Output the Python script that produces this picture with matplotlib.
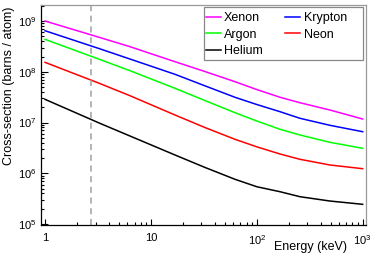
"""Photo-absorption cross-sections of noble gases vs energy (ROOT-style log-log plot)."""

import numpy as np
import matplotlib
matplotlib.use('Agg')
import matplotlib.pyplot as plt
from matplotlib.patches import Rectangle
from matplotlib.ticker import FixedLocator, FixedFormatter, LogLocator, NullFormatter

plt.rcParams.update({
    'font.family': ['Liberation Sans', 'DejaVu Sans'],
    'mathtext.fontset': 'custom',
    'mathtext.rm': 'Liberation Sans',
    'mathtext.it': 'Liberation Sans',
})

energy = [1.0, 3.3, 6.35, 16.9, 32.4, 62.3, 100.0, 166.0, 256.0, 491.0, 1000.0]

# log10 of cross-section (barns / atom)
xenon = [9.000, 8.675, 8.494, 8.198, 8.005, 7.804, 7.650, 7.497, 7.390, 7.246, 7.069]
krypton = [8.809, 8.452, 8.251, 7.950, 7.723, 7.497, 7.355, 7.213, 7.083, 6.945, 6.819]
argon = [8.639, 8.242, 8.021, 7.674, 7.433, 7.193, 7.030, 6.866, 6.754, 6.610, 6.492]
neon = [8.186, 7.768, 7.528, 7.148, 6.901, 6.669, 6.521, 6.379, 6.275, 6.163, 6.090]
helium = [7.457, 6.984, 6.734, 6.360, 6.115, 5.881, 5.735, 5.636, 5.538, 5.453, 5.388]

marker_energy = 2.7

xticks = [1, 10, 100, 1000]
xticklabels = ['1', '10', '$10^{2}$', '$10^{3}$']
yticks = [1e5, 1e6, 1e7, 1e8, 1e9]
yticklabels = ['$10^{5}$', '$10^{6}$', '$10^{7}$', '$10^{8}$', '$10^{9}$']

# legend order gives Xenon/Krypton, Argon/Neon, Helium rows with ncol=2
series = [
    ('Xenon', xenon, '#ff00ff'),
    ('Argon', argon, '#00ff00'),
    ('Helium', helium, 'black'),
    ('Krypton', krypton, '#0000ff'),
    ('Neon', neon, '#ff0000'),
]

fig = plt.figure(figsize=(3.74, 2.57), dpi=100)
ax = fig.add_axes([0.1096, 0.1245, 0.869, 0.856])

for name, vals, col in series:
    ax.plot(energy, 10 ** np.array(vals), color=col, lw=1.1, label=name)

ax.axvline(marker_energy, color='#a0a0a0', ls=(0, (4, 3)), lw=1.1)

ax.set_xscale('log')
ax.set_yscale('log')
ax.set_xlim(0.916, 1075)
ax.set_ylim(9.56e4, 2.07e9)

ax.xaxis.set_major_locator(FixedLocator(xticks))
ax.xaxis.set_major_formatter(FixedFormatter(xticklabels))
ax.xaxis.set_minor_locator(LogLocator(base=10, subs=np.arange(2, 10)))
ax.xaxis.set_minor_formatter(NullFormatter())
ax.yaxis.set_major_locator(FixedLocator(yticks))
ax.yaxis.set_major_formatter(FixedFormatter(yticklabels))
ax.yaxis.set_minor_locator(LogLocator(base=10, subs=np.arange(2, 10)))
ax.yaxis.set_minor_formatter(NullFormatter())

ax.tick_params(which='both', direction='in', top=False, right=False,
               labelsize=8, width=0.8)
ax.tick_params(axis='y', which='major', length=5, pad=3)
ax.tick_params(axis='y', which='minor', length=2.5)
ax.tick_params(axis='x', which='major', length=4, pad=6)
ax.tick_params(axis='x', which='minor', length=2.2)

for s in ['top', 'right']:
    ax.spines[s].set_color('#999999')
for s in ['left', 'bottom']:
    ax.spines[s].set_color('black')
for s in ax.spines.values():
    s.set_linewidth(0.9)

fig.text(9 / 374, 1 - 7 / 257, 'Cross-section (barns / atom)', rotation=90,
         ha='center', va='top', fontsize=9)
ax.text(0.9415, -0.0986, 'Energy (keV)', transform=ax.transAxes,
        ha='right', va='center', fontsize=9)

# legend box drawn separately (ROOT style leaves room on the right)
box = Rectangle((0.5015, 0.75), 0.488, 0.2395, transform=ax.transAxes,
                facecolor='white', edgecolor='#888888', lw=0.9, zorder=4)
ax.add_patch(box)
leg = ax.legend(ncol=2, loc='upper left', bbox_to_anchor=(0.508, 0.967),
                fontsize=9, frameon=False, handlelength=1.2, handletextpad=0.25,
                borderpad=0, labelspacing=0.36, borderaxespad=0,
                columnspacing=1.8)
leg.set_zorder(5)

fig.savefig('out.png', dpi=100)
